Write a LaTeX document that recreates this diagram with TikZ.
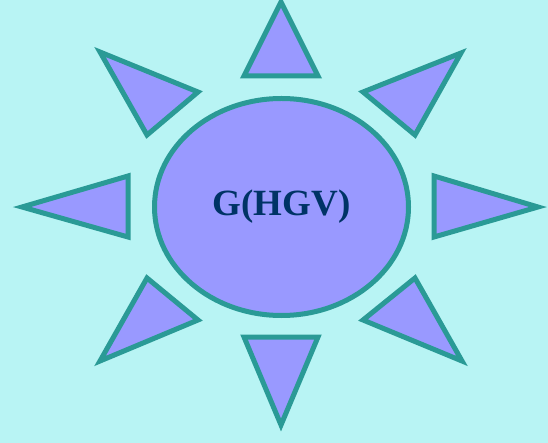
\documentclass[tikz,border=0pt]{standalone}
\usepackage{fontspec}
\setmainfont{Liberation Serif}
\usetikzlibrary{shapes.geometric}
\definecolor{bgc}{HTML}{B8F4F4}
\definecolor{fillc}{HTML}{9999FF}
\definecolor{linec}{HTML}{2A9A96}
\definecolor{textc}{HTML}{003366}
\begin{document}
\begin{tikzpicture}[x=1pt,y=-1pt,
  ray/.style={draw=linec,fill=fillc,line width=5pt,line join=miter},
  sun/.style={ellipse,draw=linec,fill=fillc,line width=5pt,minimum width=254pt,minimum height=217pt,inner sep=0pt}]
\useasboundingbox (0,0) rectangle (548,443);
\fill[bgc] (0,0) rectangle (548,443);
% rays
\draw[ray] (281,2) -- (318,76) -- (244,76) -- cycle;
\draw[ray] (281,425) -- (318,337) -- (244,337) -- cycle;
\draw[ray] (22,207) -- (128,176) -- (128,237) -- cycle;
\draw[ray] (538,207) -- (434,176) -- (434,237) -- cycle;
\draw[ray] (100,52) -- (198,92) -- (147,135) -- cycle;
\draw[ray] (461,53) -- (363,92) -- (415,135) -- cycle;
\draw[ray] (100,361) -- (198,320) -- (147,278) -- cycle;
\draw[ray] (462,361) -- (363,320) -- (415,278) -- cycle;
% sun
\node[sun,font=\fontsize{37}{37}\selectfont\bfseries,text=textc] (s) at (281.5,207) {G(HGV)};
\end{tikzpicture}
\end{document}
